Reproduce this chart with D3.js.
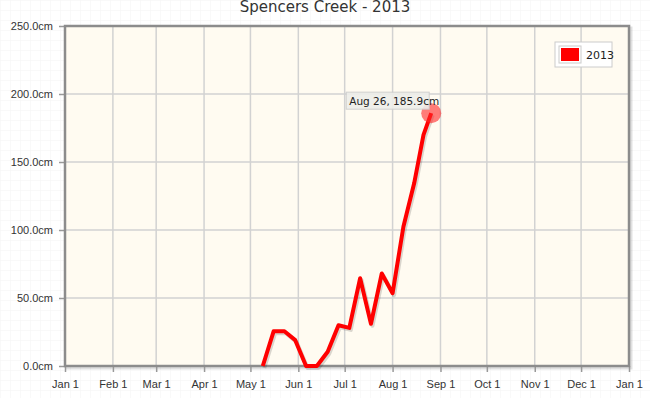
<!DOCTYPE html>
<html>
<head>
<meta charset="utf-8">
<script src="https://cdn.jsdelivr.net/npm/d3@7"></script>
<style>
  body { margin: 0; background: #fff; }
  svg { display: block; font-family: "DejaVu Sans", sans-serif; }
</style>
</head>
<body>
<script>
// snow depth readings, 2013
const dates = ["2013-05-09","2013-05-16","2013-05-23","2013-05-30","2013-06-06","2013-06-13",
  "2013-06-20","2013-06-27","2013-07-04","2013-07-11","2013-07-18","2013-07-25","2013-08-01",
  "2013-08-08","2013-08-15","2013-08-21","2013-08-26"];
const depths = [0, 25.5, 25.5, 19, 0, 0, 10.5, 30, 28, 64.5, 31, 68, 53.5, 102.4, 134.5, 170, 185.9];
const yTicks = [0, 50, 100, 150, 200, 250];
const seriesName = "2013";
const title = "Spencers Creek - 2013";

const W = 650, H = 398;
const margin = {left: 65, right: 21, top: 26, bottom: 32};

const parse = d3.utcParse("%Y-%m-%d");
const data = dates.map((d, i) => ({date: parse(d), v: depths[i]}));

const svg = d3.select("body").append("svg").attr("width", W).attr("height", H);

// faint graph paper background
const defs = svg.append("defs");
const pat = defs.append("pattern").attr("id", "paper")
  .attr("width", 10).attr("height", 10).attr("patternUnits", "userSpaceOnUse");
pat.append("path").attr("d", "M10 0 L0 0 0 10").attr("fill", "none")
  .attr("stroke", "#f3f3f3").attr("stroke-width", 1);
svg.append("rect").attr("width", W).attr("height", H).attr("fill", "url(#paper)");

const x = d3.scaleUtc()
  .domain([Date.UTC(2013, 0, 1), Date.UTC(2014, 0, 1)])
  .range([margin.left, W - margin.right]);
const y = d3.scaleLinear().domain([0, 250]).range([H - margin.bottom, margin.top]);

const x0 = x.range()[0], x1 = x.range()[1], y0 = y.range()[0], y1 = y.range()[1];

// plot background + shadow
svg.append("rect").attr("x", x0 + 2).attr("y", y1 + 2).attr("width", x1 - x0).attr("height", y0 - y1)
  .attr("fill", "none").attr("stroke", "rgba(0,0,0,0.12)").attr("stroke-width", 3);
svg.append("rect").attr("x", x0).attr("y", y1).attr("width", x1 - x0).attr("height", y0 - y1)
  .attr("fill", "#fffbf1");

const months = x.ticks(d3.utcMonth.every(1));

// grid
svg.append("g").selectAll("line").data(months.slice(1, -1)).join("line")
  .attr("x1", d => x(d)).attr("x2", d => x(d)).attr("y1", y1).attr("y2", y0)
  .attr("stroke", "#d2d2d2").attr("stroke-width", 1.5);
svg.append("g").selectAll("line").data(yTicks.slice(1, -1)).join("line")
  .attr("x1", x0).attr("x2", x1).attr("y1", d => y(d)).attr("y2", d => y(d))
  .attr("stroke", "#d2d2d2").attr("stroke-width", 1.5);

// axes
const xAxis = d3.axisBottom(x).tickValues(months).tickFormat(d3.utcFormat("%b %-d"))
  .tickSize(6).tickPadding(8);
const gx = svg.append("g").attr("transform", "translate(0," + y0 + ")").call(xAxis);
gx.select(".domain").remove();
gx.selectAll("line").attr("stroke", "#999").attr("stroke-width", 1.5);
gx.selectAll("text").attr("fill", "#333").attr("font-size", 11);

const yAxis = d3.axisLeft(y).tickValues(yTicks).tickFormat(d => d3.format(".1f")(d) + "cm")
  .tickSize(6).tickPadding(6);
const gy = svg.append("g").attr("transform", "translate(" + x0 + ",0)").call(yAxis);
gy.select(".domain").remove();
gy.selectAll("line").attr("stroke", "#999").attr("stroke-width", 1.5);
gy.selectAll("text").attr("fill", "#333").attr("font-size", 11);

// border
svg.append("rect").attr("x", x0).attr("y", y1).attr("width", x1 - x0).attr("height", y0 - y1)
  .attr("fill", "none").attr("stroke", "#8c8c8c").attr("stroke-width", 2.5);

// series line
const line = d3.line().x(d => x(d.date)).y(d => y(d.v));
svg.append("path").datum(data).attr("d", line)
  .attr("transform", "translate(1.5,2)")
  .attr("fill", "none").attr("stroke", "rgba(0,0,0,0.15)").attr("stroke-width", 4)
  .attr("stroke-linejoin", "round");
svg.append("path").datum(data).attr("d", line)
  .attr("fill", "none").attr("stroke", "#ff0000").attr("stroke-width", 4)
  .attr("stroke-linejoin", "round");

// highlighted point + tooltip
const last = data[data.length - 1];
svg.append("circle").attr("cx", x(last.date)).attr("cy", y(last.v)).attr("r", 10)
  .attr("fill", "rgba(255,40,40,0.6)");
const tip = svg.append("g");
const tipText = d3.utcFormat("%b %-d")(last.date) + ", " + last.v.toFixed(1) + "cm";
const tipX = x(last.date) - 85, tipY = y(last.v) - 21;
tip.append("rect").attr("x", tipX).attr("y", tipY).attr("width", 83).attr("height", 17)
  .attr("fill", "#eeeeea").attr("stroke", "#cccccc").attr("opacity", 0.9);
tip.append("text").attr("x", tipX + 3).attr("y", tipY + 12.5).attr("font-size", 10.5)
  .attr("fill", "#222").text(tipText);

// legend
const lg = svg.append("g").attr("transform", "translate(555,42)");
lg.append("rect").attr("width", 57).attr("height", 25).attr("fill", "#fff")
  .attr("stroke", "#ccc");
lg.append("rect").attr("x", 4).attr("y", 4).attr("width", 22).attr("height", 17)
  .attr("fill", "#fff").attr("stroke", "#ccc");
lg.append("rect").attr("x", 6).attr("y", 6).attr("width", 18).attr("height", 13)
  .attr("fill", "#ff0000");
lg.append("text").attr("x", 31).attr("y", 17).attr("font-size", 11).attr("fill", "#222")
  .text(seriesName);

// title
svg.append("text").attr("x", W / 2).attr("y", 12).attr("text-anchor", "middle")
  .attr("font-size", 15).attr("fill", "#333").text(title);
</script>
</body>
</html>
